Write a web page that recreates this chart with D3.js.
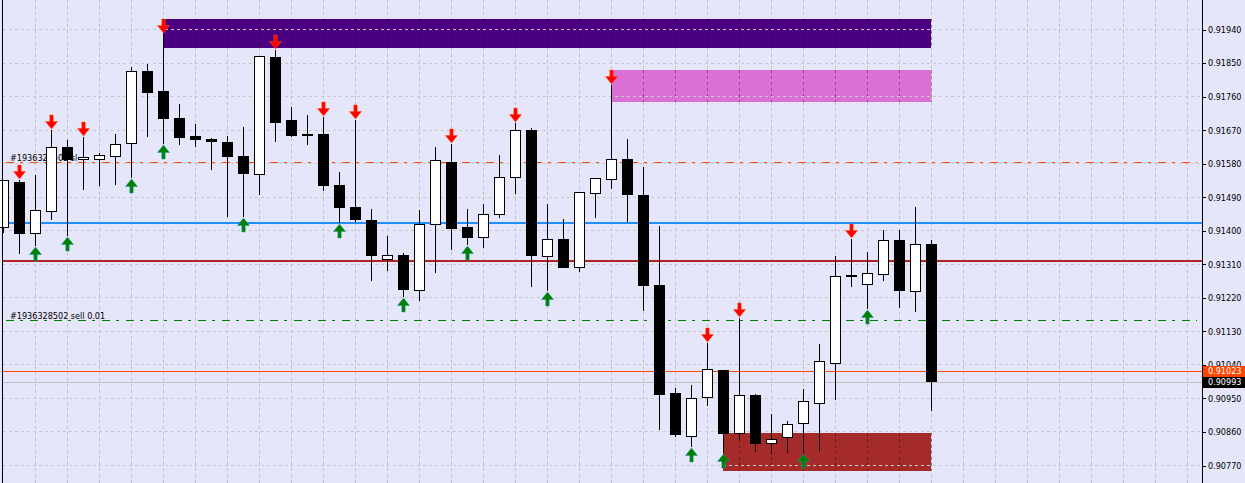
<!DOCTYPE html>
<html>
<head>
<meta charset="utf-8">
<script src="https://cdnjs.cloudflare.com/ajax/libs/d3/7.8.5/d3.min.js"></script>
<style>
body{margin:0;background:#e6e6fa;overflow:hidden}
svg{display:block}
text{font-family:"DejaVu Sans Condensed","Liberation Sans",Arial,sans-serif}
</style>
</head>
<body>
<div class="container"></div>
<script>

var opens = [0.91409,0.91532,0.91392,0.91451,0.91624,0.91591,0.91591,0.91598,0.91634,0.91828,
	0.91774,0.91702,0.91653,0.91645,0.91637,0.91600,0.91550,0.91866,0.91696,0.91656,
	0.91659,0.91522,0.91463,0.91430,0.91323,0.91334,0.91240,0.91416,0.91585,0.91409,
	0.91381,0.91443,0.91542,0.91669,0.91332,0.91379,0.91302,0.91499,0.91537,0.91593,
	0.91495,0.91254,0.90965,0.90848,0.90953,0.91025,0.90857,0.90959,0.90828,0.90844,
	0.90883,0.90937,0.91044,0.91278,0.91255,0.91282,0.91376,0.91238,0.91365];

var highs = [0.91536,0.91535,0.91549,0.91670,0.91643,0.91651,0.91608,0.91659,0.91840,0.91847,
	0.91929,0.91739,0.91687,0.91649,0.91653,0.91678,0.91868,0.91884,0.91731,0.91710,
	0.91704,0.91557,0.91696,0.91459,0.91387,0.91339,0.91455,0.91626,0.91634,0.91459,
	0.91473,0.91602,0.91689,0.91675,0.91473,0.91432,0.91505,0.91541,0.91790,0.91645,
	0.91571,0.91414,0.90979,0.90987,0.91099,0.91027,0.91166,0.90963,0.90909,0.90890,
	0.90974,0.91095,0.91331,0.91379,0.91344,0.91401,0.91403,0.91465,0.91374];

var lows = [0.91395,0.91338,0.91358,0.91428,0.91385,0.91508,0.91520,0.91522,0.91541,0.91651,
	0.91634,0.91629,0.91625,0.91562,0.91437,0.91438,0.91495,0.91638,0.91652,0.91629,
	0.91506,0.91422,0.91423,0.91266,0.91293,0.91222,0.91211,0.91286,0.91347,0.91361,
	0.91354,0.91435,0.91499,0.91249,0.91237,0.91299,0.91289,0.91434,0.91511,0.91423,
	0.91184,0.90866,0.90846,0.90819,0.90929,0.90803,0.90839,0.90805,0.90800,0.90803,
	0.90804,0.90808,0.90947,0.91249,0.91190,0.91266,0.91192,0.91181,0.90915];

var closes = [0.91534,0.91392,0.91455,0.91624,0.91589,0.91597,0.91602,0.91631,0.91828,0.91770,
	0.91700,0.91649,0.91643,0.91638,0.91598,0.91552,0.91867,0.91689,0.91653,0.91656,
	0.91520,0.91461,0.91428,0.91332,0.91333,0.91240,0.91417,0.91588,0.91404,0.91381,
	0.91443,0.91542,0.91669,0.91332,0.91376,0.91300,0.91502,0.91540,0.91591,0.91496,
	0.91253,0.90958,0.90851,0.90951,0.91027,0.90854,0.90959,0.90829,0.90840,0.90881,
	0.90941,0.91048,0.91276,0.91278,0.91284,0.91373,0.91238,0.91362,0.90993];

var sellSignals = [1,3,5,10,17,20,22,28,32,38,44,46,53];
var buySignals = [2,4,8,10,15,21,25,29,34,43,45,50,54];

var priceTicks = [0.91940,0.91850,0.91760,0.91670,0.91580,0.91490,0.91400,0.91310,
	0.91220,0.91130,0.91040,0.90950,0.90860,0.90770];

var zoneStart = [10,38,45];
var zoneEnd = [58,58,58];
var zoneTop = [0.91968,0.91831,0.90856];
var zoneBottom = [0.91891,0.91745,0.90754];

var blueLevel = 0.91421;
var redLevel = 0.91320;
var slLevel = 0.91583;
var entryLevel = 0.91158;
var askPrice = 0.91023;
var bidPrice = 0.90993;
var orderLabels = ['#1936328502 sl','#1936328502 sell 0.01'];

var W = 1245, H = 483;
var plotLeft = 2.5, plotRight = 1202.5;

var x = d3.scaleLinear().domain([0,58]).range([3.5,931.5]);
var y = d3.scaleLinear().domain([0.90770,0.91940]).range([465.5,29.5]);
function snap(v){ return Math.floor(v)+0.5; }

var candles = opens.map(function(o,i){
	return {i:i, o:o, h:highs[i], l:lows[i], c:closes[i]};
});

var zones = zoneStart.map(function(s,i){
	return {s:s, e:zoneEnd[i], top:zoneTop[i], bottom:zoneBottom[i]};
});
var zoneColors = ['#4b0082','#da70d6','#a52a2a'];

var svg = d3.select('.container').append('svg').attr('width',W).attr('height',H)
	.attr('shape-rendering','crispEdges');
svg.append('rect').attr('width',W).attr('height',H).attr('fill','#e6e6fa');

var gridIdx = d3.range(2,75,2);

// vertical grid
svg.append('g').selectAll('line').data(gridIdx).enter().append('line')
	.attr('x1',function(d){ return x(d); })
	.attr('x2',function(d){ return x(d); })
	.attr('y1',0).attr('y2',H)
	.attr('stroke','#c0c0c0').attr('stroke-dasharray','3,3');

// zones
svg.append('g').selectAll('rect').data(zones).enter().append('rect')
	.attr('x',function(d){ return x(d.s)-0.5; })
	.attr('width',function(d){ return x(d.e)-x(d.s); })
	.attr('y',function(d){ return Math.round(y(d.top)); })
	.attr('height',function(d){ return Math.round(y(d.bottom))-Math.round(y(d.top)); })
	.attr('fill',function(d,i){ return zoneColors[i]; });

// grid seen through the zones
zones.forEach(function(z){
	svg.append('g').selectAll('line')
		.data(gridIdx.filter(function(g){ return g>z.s && g<=z.e; }))
		.enter().append('line')
		.attr('x1',function(d){ return x(d); })
		.attr('x2',function(d){ return x(d); })
		.attr('y1',Math.round(y(z.top))).attr('y2',Math.round(y(z.bottom)))
		.attr('stroke','rgba(0,0,0,0.35)').attr('stroke-dasharray','3,3');
});

// horizontal grid
svg.append('g').selectAll('line').data(priceTicks).enter().append('line')
	.attr('x1',plotLeft).attr('x2',plotRight)
	.attr('y1',function(d){ return snap(y(d)); })
	.attr('y2',function(d){ return snap(y(d)); })
	.attr('stroke','#c8c8c8').attr('stroke-dasharray','3,3');

// level lines
function hline(p, color, w, dash, x1, x2){
	var yy = w==2 ? Math.round(y(p)) : snap(y(p));
	svg.append('line').attr('x1',x1).attr('x2',x2).attr('y1',yy).attr('y2',yy)
		.attr('stroke',color).attr('stroke-width',w)
		.attr('stroke-dasharray',dash);
}
hline(blueLevel,'#1e90ff',2,null,plotLeft,plotRight);
hline(redLevel,'#b22222',2,null,plotLeft,plotRight);
hline(slLevel,'#ff4500',1,'8,6,3,7',6,1197);
hline(entryLevel,'#008000',1,'8,6,3,7',6,1197);
hline(askPrice,'#ff4500',1,null,plotLeft,plotRight);
hline(bidPrice,'#c0c0c0',1,null,plotLeft,plotRight);

// order labels
svg.append('g').selectAll('text').data([slLevel,entryLevel]).enter().append('text')
	.attr('x',10)
	.attr('y',function(d){ return y(d)-2; })
	.attr('font-size','9px').attr('fill','#000')
	.text(function(d,i){ return orderLabels[i]; });

// candles
var cg = svg.append('g');
cg.selectAll('line').data(candles).enter().append('line')
	.attr('x1',function(d){ return x(d.i); })
	.attr('x2',function(d){ return x(d.i); })
	.attr('y1',function(d){ return Math.round(y(d.h)); })
	.attr('y2',function(d){ return Math.round(y(d.l)); })
	.attr('stroke','#000');

cg.selectAll('rect').data(candles).enter().append('rect')
	.attr('x',function(d){ return d.c>d.o ? x(d.i)-5 : x(d.i)-5.5; })
	.attr('width',function(d){ return d.c>d.o ? 10 : 11; })
	.attr('y',function(d){
		if (d.c>d.o) return snap(y(d.c));
		if (Math.abs(y(d.o)-y(d.c))<1.5) return Math.round(y(d.o))-1;
		return Math.round(y(d.o));
	})
	.attr('height',function(d){
		if (d.c>d.o) return Math.max(1, Math.floor(y(d.o))-Math.floor(y(d.c)));
		if (Math.abs(y(d.o)-y(d.c))<1.5) return 2;
		return Math.round(y(d.c))-Math.round(y(d.o));
	})
	.attr('fill',function(d){ return d.c>d.o ? '#fff' : '#000'; })
	.attr('stroke',function(d){ return d.c>d.o ? '#000' : 'none'; });

// signal arrows
var downArrow = 'M-1.7,-14L1.7,-14L1.7,-7.5L6,-7.5L0,0L-6,-7.5L-1.7,-7.5Z';
var upArrow = 'M-1.7,14L1.7,14L1.7,7.5L6,7.5L0,0L-6,7.5L-1.7,7.5Z';

svg.append('g').attr('shape-rendering','auto').selectAll('path').data(sellSignals).enter().append('path')
	.attr('d',downArrow)
	.attr('transform',function(i){ return 'translate(' + x(i) + ',' + (Math.round(y(highs[i]))-1) + ')'; })
	.attr('fill','#ff0000').attr('stroke','#ff5a00').attr('stroke-width',0.5);

svg.append('g').attr('shape-rendering','auto').selectAll('path').data(buySignals).enter().append('path')
	.attr('d',upArrow)
	.attr('transform',function(i){ return 'translate(' + x(i) + ',' + (Math.round(y(lows[i]))+1) + ')'; })
	.attr('fill','#008000').attr('stroke','#1a9a9a').attr('stroke-width',0.5);

// borders
svg.append('line').attr('x1',plotLeft).attr('x2',plotLeft).attr('y1',0).attr('y2',H).attr('stroke','#000');
svg.append('line').attr('x1',plotRight).attr('x2',plotRight).attr('y1',0).attr('y2',H).attr('stroke','#000');

// price axis
var axis = svg.append('g').attr('transform','translate(' + (plotRight-0.5) + ',0)')
	.call(d3.axisRight(y).tickValues(priceTicks).tickSize(4).tickPadding(2).tickFormat(d3.format('.5f')));
axis.select('.domain').remove();
axis.selectAll('text').attr('font-family','"DejaVu Sans Condensed","Liberation Sans",Arial,sans-serif')
	.attr('font-size','9px').attr('fill','#000');
axis.selectAll('line').attr('stroke','#000');

// current price boxes
var boxes = [askPrice,bidPrice];
var boxColors = ['#ff4500','#000'];
var pb = svg.append('g').selectAll('g').data(boxes).enter().append('g');
pb.append('rect')
	.attr('x',plotRight+0.5).attr('width',W-plotRight)
	.attr('y',function(d){ return Math.floor(y(d))-5; })
	.attr('height',11)
	.attr('fill',function(d,i){ return boxColors[i]; });
pb.append('text')
	.attr('x',plotRight+5.5)
	.attr('y',function(d){ return Math.floor(y(d))+0.5; })
	.attr('dy','0.32em')
	.attr('font-size','9px').attr('fill','#fff')
	.text(function(d){ return d3.format('.5f')(d); });

</script>
</body>
</html>
